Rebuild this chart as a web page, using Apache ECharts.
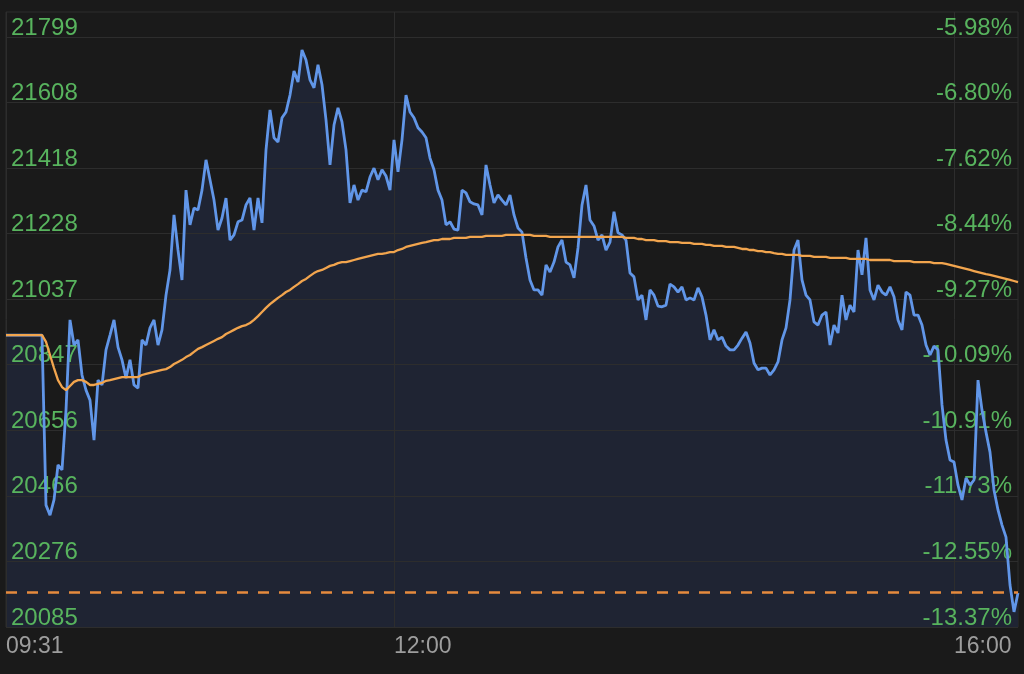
<!DOCTYPE html>
<html>
<head>
<meta charset="utf-8">
<style>
html,body{margin:0;padding:0;background:#1a1a1a;}
#chart{width:1024px;height:674px;}
</style>
<script src="https://cdn.jsdelivr.net/npm/echarts@6/dist/echarts.min.js"></script>
</head>
<body>
<div id="chart"></div>
<script>
// Price tick labels (left) and percent change labels (right)
const priceTickLabels = ['20085','20276','20466','20656','20847','21037','21228','21418','21608','21799'];
const pctTickLabels = ['-13.37%','-12.55%','-11.73%','-10.91%','-10.09%','-9.27%','-8.44%','-7.62%','-6.80%','-5.98%'];
// Time labels and the sample index at which each sits
const timeLabels = ['09:31','12:00','16:00'];
const timeLabelIndex = [0, 97, 237];
// Price series (one sample per step along the session)
const price = [
20933,20933,20933,20933,20933,20933,20933,20933,20933,20933,
20439,20410,20454,20556,20541,20715,20977,20904,20919,20817,
20773,20744,20628,20802,20788,20890,20933,20977,20898,20861,
20808,20861,20788,20779,20919,20904,20954,20977,20904,20948,
21049,21122,21282,21180,21093,21354,21253,21302,21296,21354,
21442,21384,21325,21238,21273,21331,21209,21224,21262,21267,
21311,21331,21238,21331,21259,21471,21587,21506,21494,21564,
21581,21630,21700,21668,21761,21732,21674,21651,21718,21660,
21558,21427,21543,21593,21552,21471,21317,21369,21325,21354,
21349,21392,21418,21384,21413,21395,21354,21500,21407,21500,
21630,21581,21564,21535,21523,21506,21447,21413,21354,21325,
21253,21262,21241,21238,21354,21346,21320,21314,21311,21282,
21427,21369,21317,21340,21325,21311,21340,21282,21244,21232,
21157,21093,21064,21064,21049,21137,21116,21145,21189,21209,
21145,21137,21099,21186,21311,21369,21267,21250,21209,21224,
21180,21203,21291,21230,21224,21209,21113,21102,21035,21049,
20977,21064,21049,21017,21015,21020,21081,21073,21058,21073,
21035,21041,21035,21070,21044,20991,20919,20948,20919,20927,
20901,20890,20890,20904,20924,20942,20910,20852,20832,20837,
20837,20817,20832,20855,20919,20954,21035,21180,21209,21093,
21049,21035,20971,20962,20991,21000,20904,20962,20939,21049,
20977,21020,21000,21180,21108,21215,21064,21035,21078,21058,
21049,21073,21044,20977,20948,21058,21049,20991,20991,20962,
20904,20875,20901,20890,20730,20628,20570,20564,20497,20454,
20518,20497,20512,20802,20715,20651,20593,20483,20425,20381,
20346,20207,20129,20184
];
// Average price series
const avgPrice = [
20933,20933,20933,20933,20933,20933,20933,20933,20933,20933,
20913,20875,20837,20802,20782,20773,20785,20797,20802,20802,
20797,20788,20788,20791,20794,20800,20802,20805,20808,20811,
20811,20811,20811,20811,20817,20820,20823,20826,20829,20832,
20834,20840,20849,20855,20861,20869,20875,20884,20893,20898,
20904,20910,20916,20922,20927,20936,20942,20948,20954,20959,
20962,20968,20977,20988,21000,21012,21023,21032,21041,21049,
21058,21064,21073,21081,21090,21096,21105,21113,21119,21122,
21128,21134,21137,21142,21145,21145,21148,21151,21154,21157,
21160,21163,21166,21169,21169,21171,21174,21174,21180,21183,
21189,21192,21195,21198,21201,21203,21206,21209,21209,21212,
21212,21212,21215,21215,21215,21215,21218,21218,21218,21218,
21221,21221,21221,21221,21221,21224,21224,21224,21224,21224,
21224,21224,21221,21221,21221,21221,21218,21218,21218,21218,
21218,21218,21218,21218,21218,21218,21218,21218,21218,21218,
21218,21218,21218,21218,21218,21215,21215,21215,21212,21212,
21209,21209,21209,21206,21206,21206,21203,21203,21203,21201,
21201,21201,21198,21198,21198,21195,21195,21192,21192,21192,
21189,21189,21189,21186,21183,21183,21180,21180,21177,21177,
21174,21174,21171,21169,21169,21166,21166,21166,21166,21163,
21163,21163,21160,21160,21160,21160,21157,21157,21157,21157,
21157,21154,21154,21154,21154,21154,21151,21151,21151,21151,
21151,21151,21148,21148,21148,21148,21148,21145,21145,21145,
21145,21145,21142,21142,21142,21140,21137,21134,21131,21128,
21125,21122,21119,21116,21113,21110,21108,21105,21102,21099,
21096,21093,21090,21087
];
// Reference (dashed) level
const refLevel = 20187;

const yMin = Number(priceTickLabels[0]);
const yStep = (Number(priceTickLabels[9]) - yMin) / 9;
const yMax = yMin + yStep * 9.38;
const yTicks = priceTickLabels.map(Number);

const chart = echarts.init(document.getElementById('chart'));
const font = '"Liberation Sans", Arial, Helvetica, sans-serif';
const gridColor = '#2d2d2d';
const pricePairs = price.map((v, i) => [i, v]);

const option = {
  backgroundColor: '#1a1a1a',
  animation: false,
  grid: { left: 6, right: 6, top: 12, bottom: 47, show: true, borderColor: gridColor, borderWidth: 1, backgroundColor: 'transparent' },
  xAxis: {
    type: 'value', min: 0, max: price.length - 1, z: 2,
    axisLine: { show: false }, axisTick: { show: false, customValues: timeLabelIndex },
    splitLine: { show: true, lineStyle: { color: gridColor, width: 1 } },
    axisLabel: {
      customValues: timeLabelIndex, align: 'left', margin: 8,
      color: '#9d9d9d', fontSize: 23, fontFamily: font,
      formatter: v => { const k = timeLabelIndex.indexOf(Math.round(v)); return k >= 0 ? timeLabels[k] : ''; }
    }
  },
  yAxis: [
    {
      type: 'value', min: yMin, max: yMax, position: 'left', z: 2,
      axisLine: { show: false }, axisTick: { show: false, customValues: yTicks },
      splitLine: { show: true, lineStyle: { color: gridColor, width: 1 } },
      axisLabel: {
        customValues: yTicks, inside: true, margin: 5, align: 'left', verticalAlign: 'bottom', lineHeight: 18,
        color: '#58b45e', fontSize: 24, fontFamily: font,
        formatter: v => { const k = yTicks.indexOf(v); return k >= 0 ? priceTickLabels[k] : ''; }
      }
    },
    {
      type: 'value', min: yMin, max: yMax, position: 'right', z: 2,
      axisLine: { show: false }, axisTick: { show: false, customValues: yTicks },
      splitLine: { show: false },
      axisLabel: {
        customValues: yTicks, inside: true, margin: 6, align: 'right', verticalAlign: 'bottom', lineHeight: 18,
        color: '#58b45e', fontSize: 24, fontFamily: font,
        formatter: v => { const k = yTicks.indexOf(v); return k >= 0 ? pctTickLabels[k] : ''; }
      }
    }
  ],
  series: [
    {
      name: 'PriceArea', type: 'line', yAxisIndex: 0,
      data: pricePairs,
      showSymbol: false, symbol: 'none',
      lineStyle: { width: 0, opacity: 0 },
      areaStyle: { color: '#1f2433', opacity: 1, origin: 'start' },
      z: 1, silent: true
    },
    {
      name: 'Price', type: 'line', yAxisIndex: 0,
      data: pricePairs,
      showSymbol: false, symbol: 'none',
      lineStyle: { color: '#6196e8', width: 2.8 },
      z: 3,
      markLine: {
        silent: true, symbol: ['none', 'none'], label: { show: false },
        lineStyle: { color: '#e68a3e', width: 2.5, type: [11, 10] },
        data: [{ yAxis: refLevel }]
      }
    },
    {
      name: 'Average', type: 'line', yAxisIndex: 0,
      data: avgPrice.map((v, i) => [i, v]),
      showSymbol: false, symbol: 'none',
      lineStyle: { color: '#f2a54e', width: 2.3 },
      z: 4
    }
  ]
};
chart.setOption(option);
</script>
</body>
</html>
